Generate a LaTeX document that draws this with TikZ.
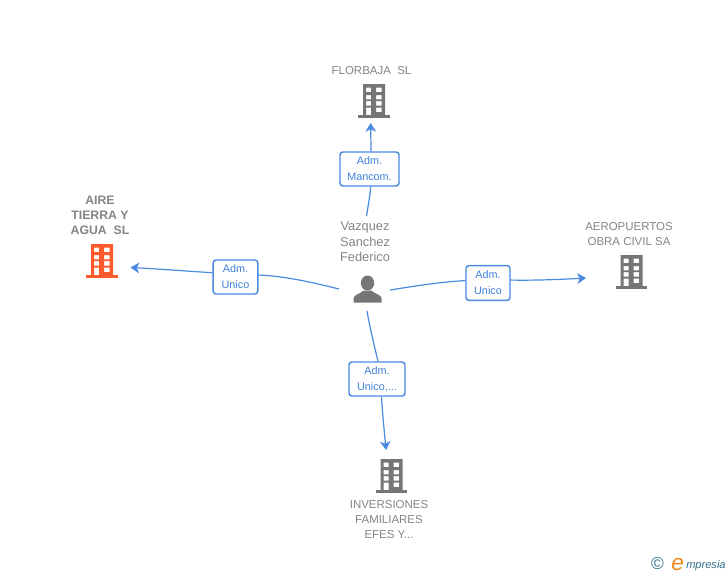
\documentclass[tikz,border=0pt]{standalone}
\usepackage{fontspec}
\setmainfont{Liberation Sans}
\usetikzlibrary{arrows.meta}
\definecolor{linkblue}{HTML}{4A8AE0}
\definecolor{labelblue}{HTML}{3F80DA}
\definecolor{icongray}{HTML}{767676}
\definecolor{textgray}{HTML}{858585}
\definecolor{firmred}{HTML}{FF5A2C}
\definecolor{logoteal}{HTML}{2F6F8A}
\definecolor{logoorange}{HTML}{F08A1D}
\tikzset{
  linkline/.style={draw=linkblue,line width=0.9pt},
  linkarrow/.style={linkline,-{Stealth[length=6.5pt,width=8pt,inset=1.8pt]}},
  rolebox/.style={draw=linkblue,line width=1.1pt,rounded corners=2.2pt,fill=white,
    text=labelblue,font=\fontsize{8.1pt}{12pt}\selectfont,align=center,inner sep=0pt},
  caption/.style={text=textgray,align=center,inner sep=0pt,font=\fontsize{8.6pt}{11.25pt}\selectfont},
  boldcaption/.style={caption,font=\fontsize{9.2pt}{11.25pt}\selectfont\bfseries},
  personcaption/.style={caption,font=\fontsize{9.6pt}{11.6pt}\selectfont},
  pics/firm/.style={code={
    \fill[#1,even odd rule] (-10.5,-34) rectangle (11.5,-3)
      (-7.5,-30.5) rectangle (-2.5,-26) (2.5,-30.5) rectangle (8,-26)
      (-7.5,-23) rectangle (-2.5,-18.7) (2.5,-23) rectangle (8,-18.7)
      (-7.5,-17) rectangle (-2.5,-12.3) (2.5,-17) rectangle (8,-12.3)
      (-7.5,-10.3) rectangle (-2.5,-3) (2.5,-10.3) rectangle (8,-6);
    \fill[#1] (-15.5,-3) rectangle (16,0);
  }},
  pics/personicon/.style={code={
    \fill[icongray] (0,-19.5) ellipse (6.7 and 7.5);
    \fill[icongray] (-14,0) -- (-14,-4) .. controls (-14,-8) and (-7,-8.5) .. (-4,-12)
      -- (4,-12) .. controls (7,-8.5) and (14,-8) .. (14,-4) -- (14,0) -- cycle;
  }}
}
\begin{document}
\begin{tikzpicture}[x=0.75pt,y=-0.75pt]
\useasboundingbox[fill=white] (0,0) rectangle (728,575);

% icons
\pic at (373.5,118) {firm=icongray};
\pic at (101.5,278) {firm=firmred};
\pic at (631,289) {firm=icongray};
\pic at (391,493) {firm=icongray};
\pic at (367.5,302.5) {personicon};

% captions
\node[caption] (florbaja) at (371.5,70.5) {FLORBAJA\ \ SL};
\node[boldcaption] (aire) at (100,215) {AIRE\\TIERRA Y\\AGUA\ \ SL};
\node[caption] (aeropuertos) at (629,234) {AEROPUERTOS\\OBRA CIVIL SA};
\node[caption] (inversiones) at (389,520) {INVERSIONES\\FAMILIARES\\EFES Y...};
\node[personcaption] (vazquez) at (365,242) {Vazquez\\Sanchez\\Federico};

% role boxes
\node[rolebox,minimum width=44.25pt,minimum height=25.5pt] (rtop) at (369.5,169) {\raisebox{-0.6pt}{Adm.}\\\raisebox{-0.6pt}{Mancom.}};
\node[rolebox,minimum width=33.5pt,minimum height=25.5pt] (rleft) at (235.5,277) {\raisebox{-0.6pt}{Adm.}\\\raisebox{-0.6pt}{Unico}};
\node[rolebox,minimum width=33pt,minimum height=26pt] (rright) at (488,283) {\raisebox{-0.6pt}{Adm.}\\\raisebox{-0.6pt}{Unico}};
\node[rolebox,minimum width=42pt,minimum height=25.5pt] (rbottom) at (377,379) {\raisebox{-0.6pt}{Adm.}\\\raisebox{-0.6pt}{Unico,...}};

% free connector ends
\coordinate (ptop) at (366.5,216);
\coordinate (pleft) at (339,289);
\coordinate (pright) at (390,290);
\coordinate (pbottom) at (367,311);
\coordinate (tipF) at (370.7,123);
\coordinate (tipA) at (130.5,267.5);
\coordinate (tipO) at (586,278);
\coordinate (tipI) at (386,450);

% connectors
\draw[linkline] (ptop) .. controls (368,206) and (370,196) .. ([xshift=0.9pt]rtop.south);
\draw[linkarrow] ([xshift=1.1pt]rtop.north) .. controls (371,143) and (370.7,133) .. (tipF);
\draw[linkline] (pleft) .. controls (315,283) and (285,276) .. ([yshift=1.5pt]rleft.east);
\draw[linkarrow] ([yshift=3.2pt]rleft.west) .. controls (185,271) and (160,269) .. (tipA);
\draw[linkline] (pright) .. controls (415,286) and (440,282) .. ([yshift=1.8pt]rright.west);
\draw[linkarrow] ([yshift=2.2pt]rright.east) .. controls (535,280.5) and (560,279.5) .. (tipO);
\draw[linkline] (pbottom) .. controls (370,328) and (374,345) .. ([xshift=0.8pt]rbottom.north);
\draw[linkarrow] ([xshift=3.4pt]rbottom.south) .. controls (382.5,415) and (384.5,433) .. (tipI);

% logo
\node[text=logoteal,inner sep=0pt,font=\fontsize{13pt}{13pt}\selectfont] (copyr) at (657.5,564) {©};
\node[text=logoorange,inner sep=0pt,anchor=base west,font=\itshape\fontsize{17pt}{17pt}\selectfont] (logoe) at (671,570) {e};
\node[text=logoteal,inner sep=0pt,anchor=base west,font=\itshape\fontsize{8.3pt}{10pt}\selectfont] (logotext) at (686,568) {mpresia};
\end{tikzpicture}
\end{document}
